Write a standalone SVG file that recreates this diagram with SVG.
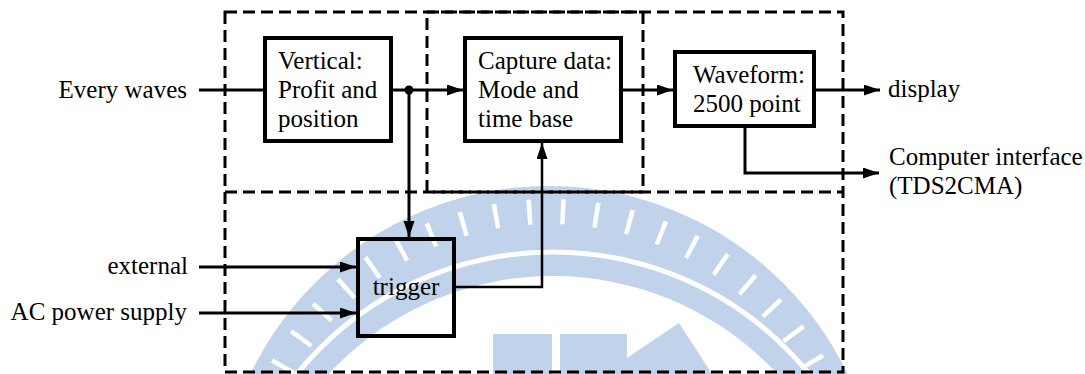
<svg xmlns="http://www.w3.org/2000/svg" width="1085" height="374" viewBox="0 0 1085 374">
<style>
text{font-family:"Liberation Serif","Times New Roman",serif;font-size:25px;fill:#000}
.box{fill:none;stroke:#000;stroke-width:4}
.dash{fill:none;stroke:#000;stroke-width:3;stroke-dasharray:12 6}
.ln{fill:none;stroke:#000;stroke-width:3}
.wm{fill:#c0d3ea}
</style>
<defs>
<marker id="arr" markerUnits="userSpaceOnUse" markerWidth="17" markerHeight="12" refX="16" refY="5.5" orient="auto">
<path d="M0,0 L16,5.5 L0,11 z" fill="#000"/>
</marker>
</defs>
<rect width="1085" height="374" fill="#fff"/>
<g id="watermark">
<circle class="wm" cx="549" cy="517" r="331"/>
<circle cx="549" cy="517" r="305.5" fill="none" stroke="#fff" stroke-width="25" pathLength="360" stroke-dasharray="0.845 5.4708" stroke-dashoffset="5.686"/>
<circle cx="553" cy="582" r="330" fill="none" stroke="#fff" stroke-width="5"/>
<circle cx="553" cy="582" r="306" fill="#fff"/>
<rect class="wm" x="493" y="334" width="59" height="40"/>
<polygon class="wm" points="560,334 627,334 627,358 679,323 712,374 560,374"/>
</g>
<g id="regions">
<rect class="dash" x="225" y="12" width="618" height="360"/>
<rect class="dash" x="427" y="12" width="216" height="180"/>
<line class="dash" x1="225" y1="192" x2="843" y2="192"/>
</g>
<g id="connectors">
<line class="ln" x1="199" y1="90" x2="265" y2="90"/>
<line class="ln" x1="391" y1="90" x2="463" y2="90" marker-end="url(#arr)"/>
<circle cx="409" cy="90" r="4.5" fill="#000"/>
<line class="ln" x1="409" y1="90" x2="409" y2="237" marker-end="url(#arr)"/>
<line class="ln" x1="621" y1="90" x2="673" y2="90" marker-end="url(#arr)"/>
<line class="ln" x1="814" y1="90" x2="880" y2="90" marker-end="url(#arr)"/>
<polyline class="ln" points="745,126 745,173 879,173" marker-end="url(#arr)"/>
<line class="ln" x1="199" y1="267" x2="356" y2="267" marker-end="url(#arr)"/>
<line class="ln" x1="199" y1="313" x2="356" y2="313" marker-end="url(#arr)"/>
<polyline class="ln" style="stroke-width:2.5" points="456,287 542,287 542,143" marker-end="url(#arr)"/>
</g>
<g id="vertical">
<rect class="box" x="265" y="38" width="126" height="103" style="fill:#fff"/>
<text x="278" y="69">Vertical:</text>
<text x="278" y="98">Profit and</text>
<text x="278" y="127">position</text>
</g>
<g id="capture">
<rect class="box" x="465" y="38" width="156" height="103" style="fill:#fff"/>
<text x="478" y="69">Capture data:</text>
<text x="478" y="98">Mode and</text>
<text x="478" y="127">time base</text>
</g>
<g id="waveform">
<rect class="box" x="675" y="52" width="139" height="74" style="fill:#fff"/>
<text x="693" y="83">Waveform:</text>
<text x="693" y="112">2500 point</text>
</g>
<g id="trigger">
<rect class="box" x="358" y="239" width="96" height="97"/>
<text x="406" y="295" text-anchor="middle">trigger</text>
</g>
<g id="labels">
<text x="187" y="98" text-anchor="end">Every waves</text>
<text x="188" y="274" text-anchor="end">external</text>
<text x="187" y="320" text-anchor="end">AC power supply</text>
<text x="888" y="97">display</text>
<text x="889" y="165">Computer interface</text>
<text x="889" y="194">(TDS2CMA)</text>
</g>
</svg>
